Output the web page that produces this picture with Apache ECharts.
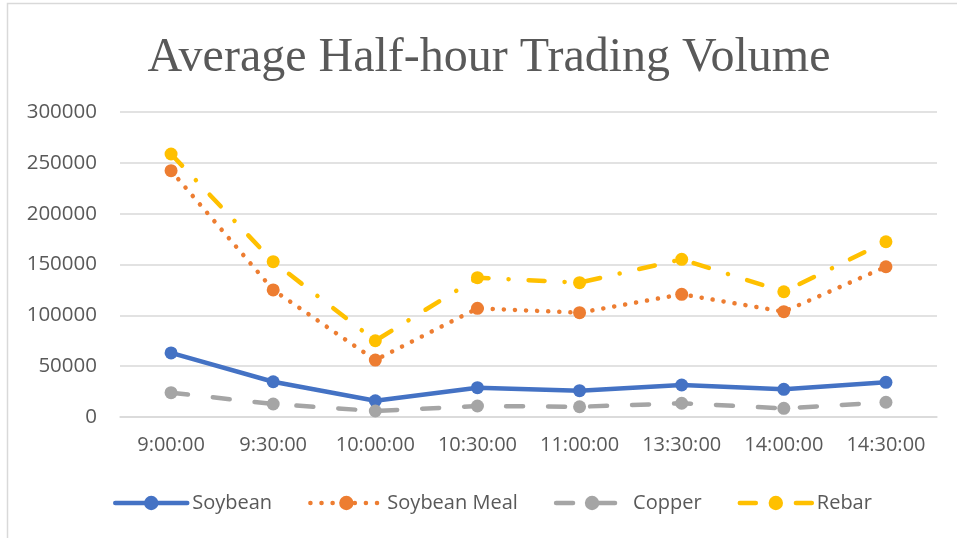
<!DOCTYPE html>
<html>
<head>
<meta charset="utf-8">
<script src="https://cdn.jsdelivr.net/npm/echarts@6/dist/echarts.min.js"></script>
<style>
html, body { margin: 0; padding: 0; background: #fff; }
#main { width: 957px; height: 538px; }
</style>
</head>
<body>
<div id="main"></div>
<script>
// times on the x axis
const times = ['9:00:00', '9:30:00', '10:00:00', '10:30:00', '11:00:00', '13:30:00', '14:00:00', '14:30:00'];
// average volume per half hour
const soybean = [63000, 34700, 16000, 28800, 25900, 31500, 27200, 34100];
const soybeanMeal = [242300, 125000, 56000, 106900, 102600, 120700, 103600, 147800];
const copper = [23900, 12800, 5900, 10800, 10100, 13500, 8500, 14500];
const rebar = [258700, 152800, 75000, 137000, 132100, 155100, 123200, 172400];

const chart = echarts.init(document.getElementById('main'));

function line(name, data, color, type) {
  return {
    name: name,
    type: 'line',
    data: data,
    symbol: 'circle',
    symbolSize: 13,
    showAllSymbol: true,
    lineStyle: { color: color, width: 4.5, type: type, cap: 'round', join: 'round' },
    itemStyle: { color: color },
    emphasis: { disabled: true }
  };
}

chart.setOption({
  animation: false,
  title: {
    text: 'Average Half-hour Trading Volume',
    left: 484,
    textAlign: 'center',
    top: 29,
    textStyle: { fontFamily: 'Liberation Serif', fontSize: 48, fontWeight: 'normal', color: '#595959' }
  },
  graphic: [{
    type: 'rect',
    shape: { x: 7.5, y: 3.5, width: 1200, height: 1200 },
    style: { fill: 'none', stroke: '#d9d9d9', lineWidth: 1.5 },
    silent: true
  }],
  legend: {
    left: 108,
    top: 488,
    itemWidth: 72,
    itemHeight: 18,
    itemGap: 36,
    lineStyle: { width: 'inherit' },
    textStyle: { fontFamily: 'Open Sans', fontSize: 20, color: '#595959' },
    data: ['Soybean', 'Soybean Meal', 'Copper', 'Rebar']
  },
  grid: { left: 120, right: 20, top: 112, bottom: 121 },
  xAxis: {
    type: 'category',
    data: times,
    boundaryGap: true,
    axisLine: { lineStyle: { color: '#d9d9d9', width: 1.5 } },
    axisTick: { show: false },
    axisLabel: { interval: 0, fontFamily: 'Open Sans', fontSize: 20, color: '#595959', margin: 18 }
  },
  yAxis: {
    type: 'value',
    min: 0,
    max: 300000,
    interval: 50000,
    axisLine: { show: false },
    axisTick: { show: false },
    splitLine: { lineStyle: { color: '#d9d9d9', width: 1.5 } },
    axisLabel: { formatter: v => String(v), fontFamily: 'Open Sans', fontSize: 20.5, color: '#595959', margin: 23 }
  },
  series: [
    line('Soybean', soybean, '#4472C4', 'solid'),
    line('Soybean Meal', soybeanMeal, '#ED7D31', [0.1, 11]),
    line('Copper', copper, '#A5A5A5', [17, 25]),
    line('Rebar', rebar, '#FFC000', [16, 20, 0.1, 20])
  ]
});
</script>
</body>
</html>
